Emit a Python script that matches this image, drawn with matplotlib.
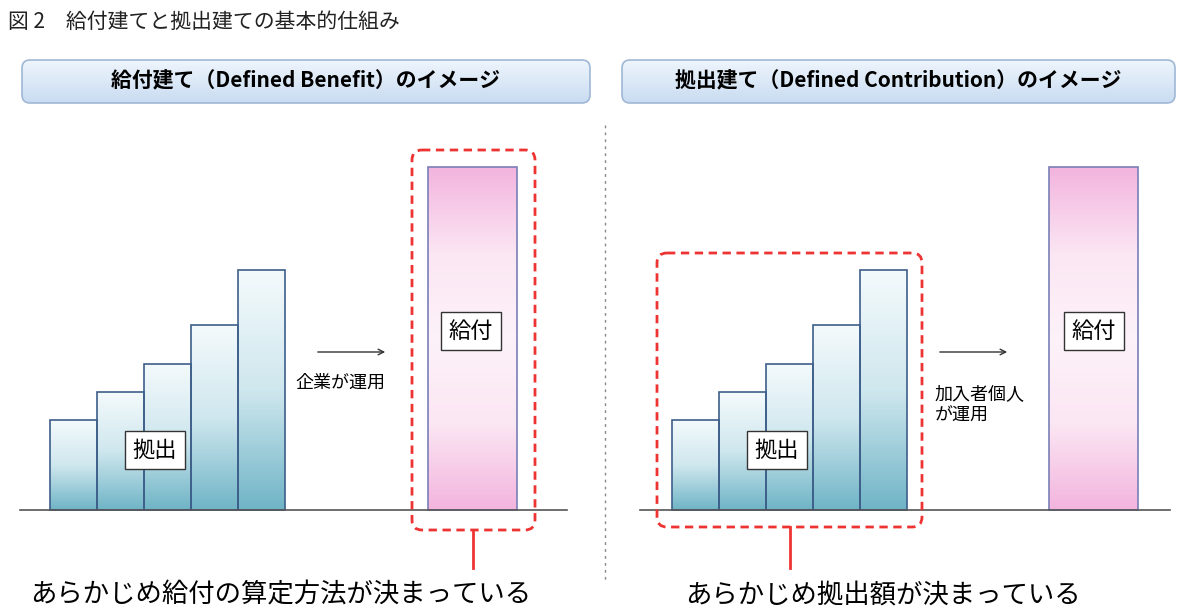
import numpy as np
import matplotlib
matplotlib.use("Agg")
import matplotlib.pyplot as plt
from matplotlib.patches import Rectangle, FancyBboxPatch
from matplotlib.colors import LinearSegmentedColormap

plt.rcParams['font.family'] = ['Noto Sans CJK JP']

title = "図 2　給付建てと拠出建ての基本的仕組み"
headers = ["給付建て（Defined Benefit）のイメージ", "拠出建て（Defined Contribution）のイメージ"]
contrib_heights = [90, 118, 146, 185, 240]
benefit_height = 343
bottom_texts = ["あらかじめ給付の算定方法が決まっている", "あらかじめ拠出額が決まっている"]
arrow_texts = ["企業が運用", "加入者個人\nが運用"]

fig = plt.figure(figsize=(12, 6.16), dpi=100)
ax = fig.add_axes([0, 0, 1, 1])
ax.set_xlim(0, 1200); ax.set_ylim(616, 0); ax.axis('off')

base = 510
teal = LinearSegmentedColormap.from_list('t', ['#f4fafc', '#cfe7ee', '#6fb4c6'])
pink = LinearSegmentedColormap.from_list('p', ['#f3b4de', '#fbe6f3', '#fdf2f9', '#fbe6f3', '#f3b4de'])

def grad_rect(x0, x1, y0, y1, cmap, ec):
    g = np.linspace(0, 1, 256).reshape(-1, 1)
    im = ax.imshow(g, cmap=cmap, extent=(x0, x1, y1, y0), aspect='auto', zorder=2)
    r = Rectangle((x0, y0), x1 - x0, y1 - y0, fill=False, ec=ec, lw=1.2, zorder=3)
    ax.add_patch(r)
    im.set_clip_path(r)

def label_box(cx, cy, text):
    ax.text(cx, cy, text, ha='center', va='center', fontsize=16, zorder=5,
            bbox=dict(boxstyle='square,pad=0.35', fc='white', ec='#333333', lw=1))

ax.text(8, 22, title, fontsize=15, va='center', ha='left', color='#222222')

for (hx0, hx1), h in zip([(22, 590), (622, 1175)], headers):
    g = np.linspace(0, 1, 64).reshape(-1, 1)
    hc = LinearSegmentedColormap.from_list('h', ['#eef5fc', '#c9dcf2'])
    p = FancyBboxPatch((hx0, 60), hx1 - hx0, 43, boxstyle='round,pad=0,rounding_size=8',
                       fc='none', ec='#9fb8d6', lw=1.2, zorder=3)
    ax.add_patch(p)
    im = ax.imshow(g, cmap=hc, extent=(hx0, hx1, 103, 60), aspect='auto', zorder=2)
    im.set_clip_path(p)
    ax.text((hx0 + hx1) / 2, 81, h, ha='center', va='center', fontsize=15, fontweight='bold', zorder=4)

ax.plot([605, 605], [125, 580], ls=(0, (2, 3)), color='#888888', lw=1)

panels = [dict(x0=50, big=428, lc=(155, 450), bc=(471, 331), box=(412, 150, 535, 530), rx=473,
               line=(20, 567), arrow=(315, 388), atx=295, aty=383, btx=30),
          dict(x0=672, big=1049, lc=(777, 450), bc=(1094, 331), box=(657, 253, 922, 527), rx=790,
               line=(640, 1170), arrow=(937, 1010), atx=935, aty=405, btx=685)]
bw = 47
for i, pn in enumerate(panels):
    ax.plot(pn['line'], [base, base], color='#555555', lw=1.2, zorder=4)
    for k, h in enumerate(contrib_heights):
        x = pn['x0'] + k * bw
        grad_rect(x, x + bw, base - h, base, teal, '#3d5f8a')
    grad_rect(pn['big'], pn['big'] + 89, base - benefit_height, base, pink, '#7a7fb8')
    label_box(*pn['lc'], "拠出")
    label_box(*pn['bc'], "給付")
    bx0, by0, bx1, by1 = pn['box']
    ax.add_patch(FancyBboxPatch((bx0, by0), bx1 - bx0, by1 - by0, boxstyle='round,pad=0,rounding_size=10',
                                fill=False, ec='#ee3333', lw=2, ls=(0, (3, 2)), zorder=6))
    ax.plot([pn['rx'], pn['rx']], [by1, 568], color='#ee3333', lw=2)
    a0, a1 = pn['arrow']
    ax.annotate('', xy=(a1, 352), xytext=(a0, 352),
                arrowprops=dict(arrowstyle='->', color='#333333', lw=1))
    ax.text(pn['atx'], pn['aty'], arrow_texts[i], fontsize=13, va='center', ha='left', linespacing=1.2)
    ax.text(pn['btx'], 595, bottom_texts[i], fontsize=19, va='center', ha='left')

fig.savefig('out.png', dpi=100)
